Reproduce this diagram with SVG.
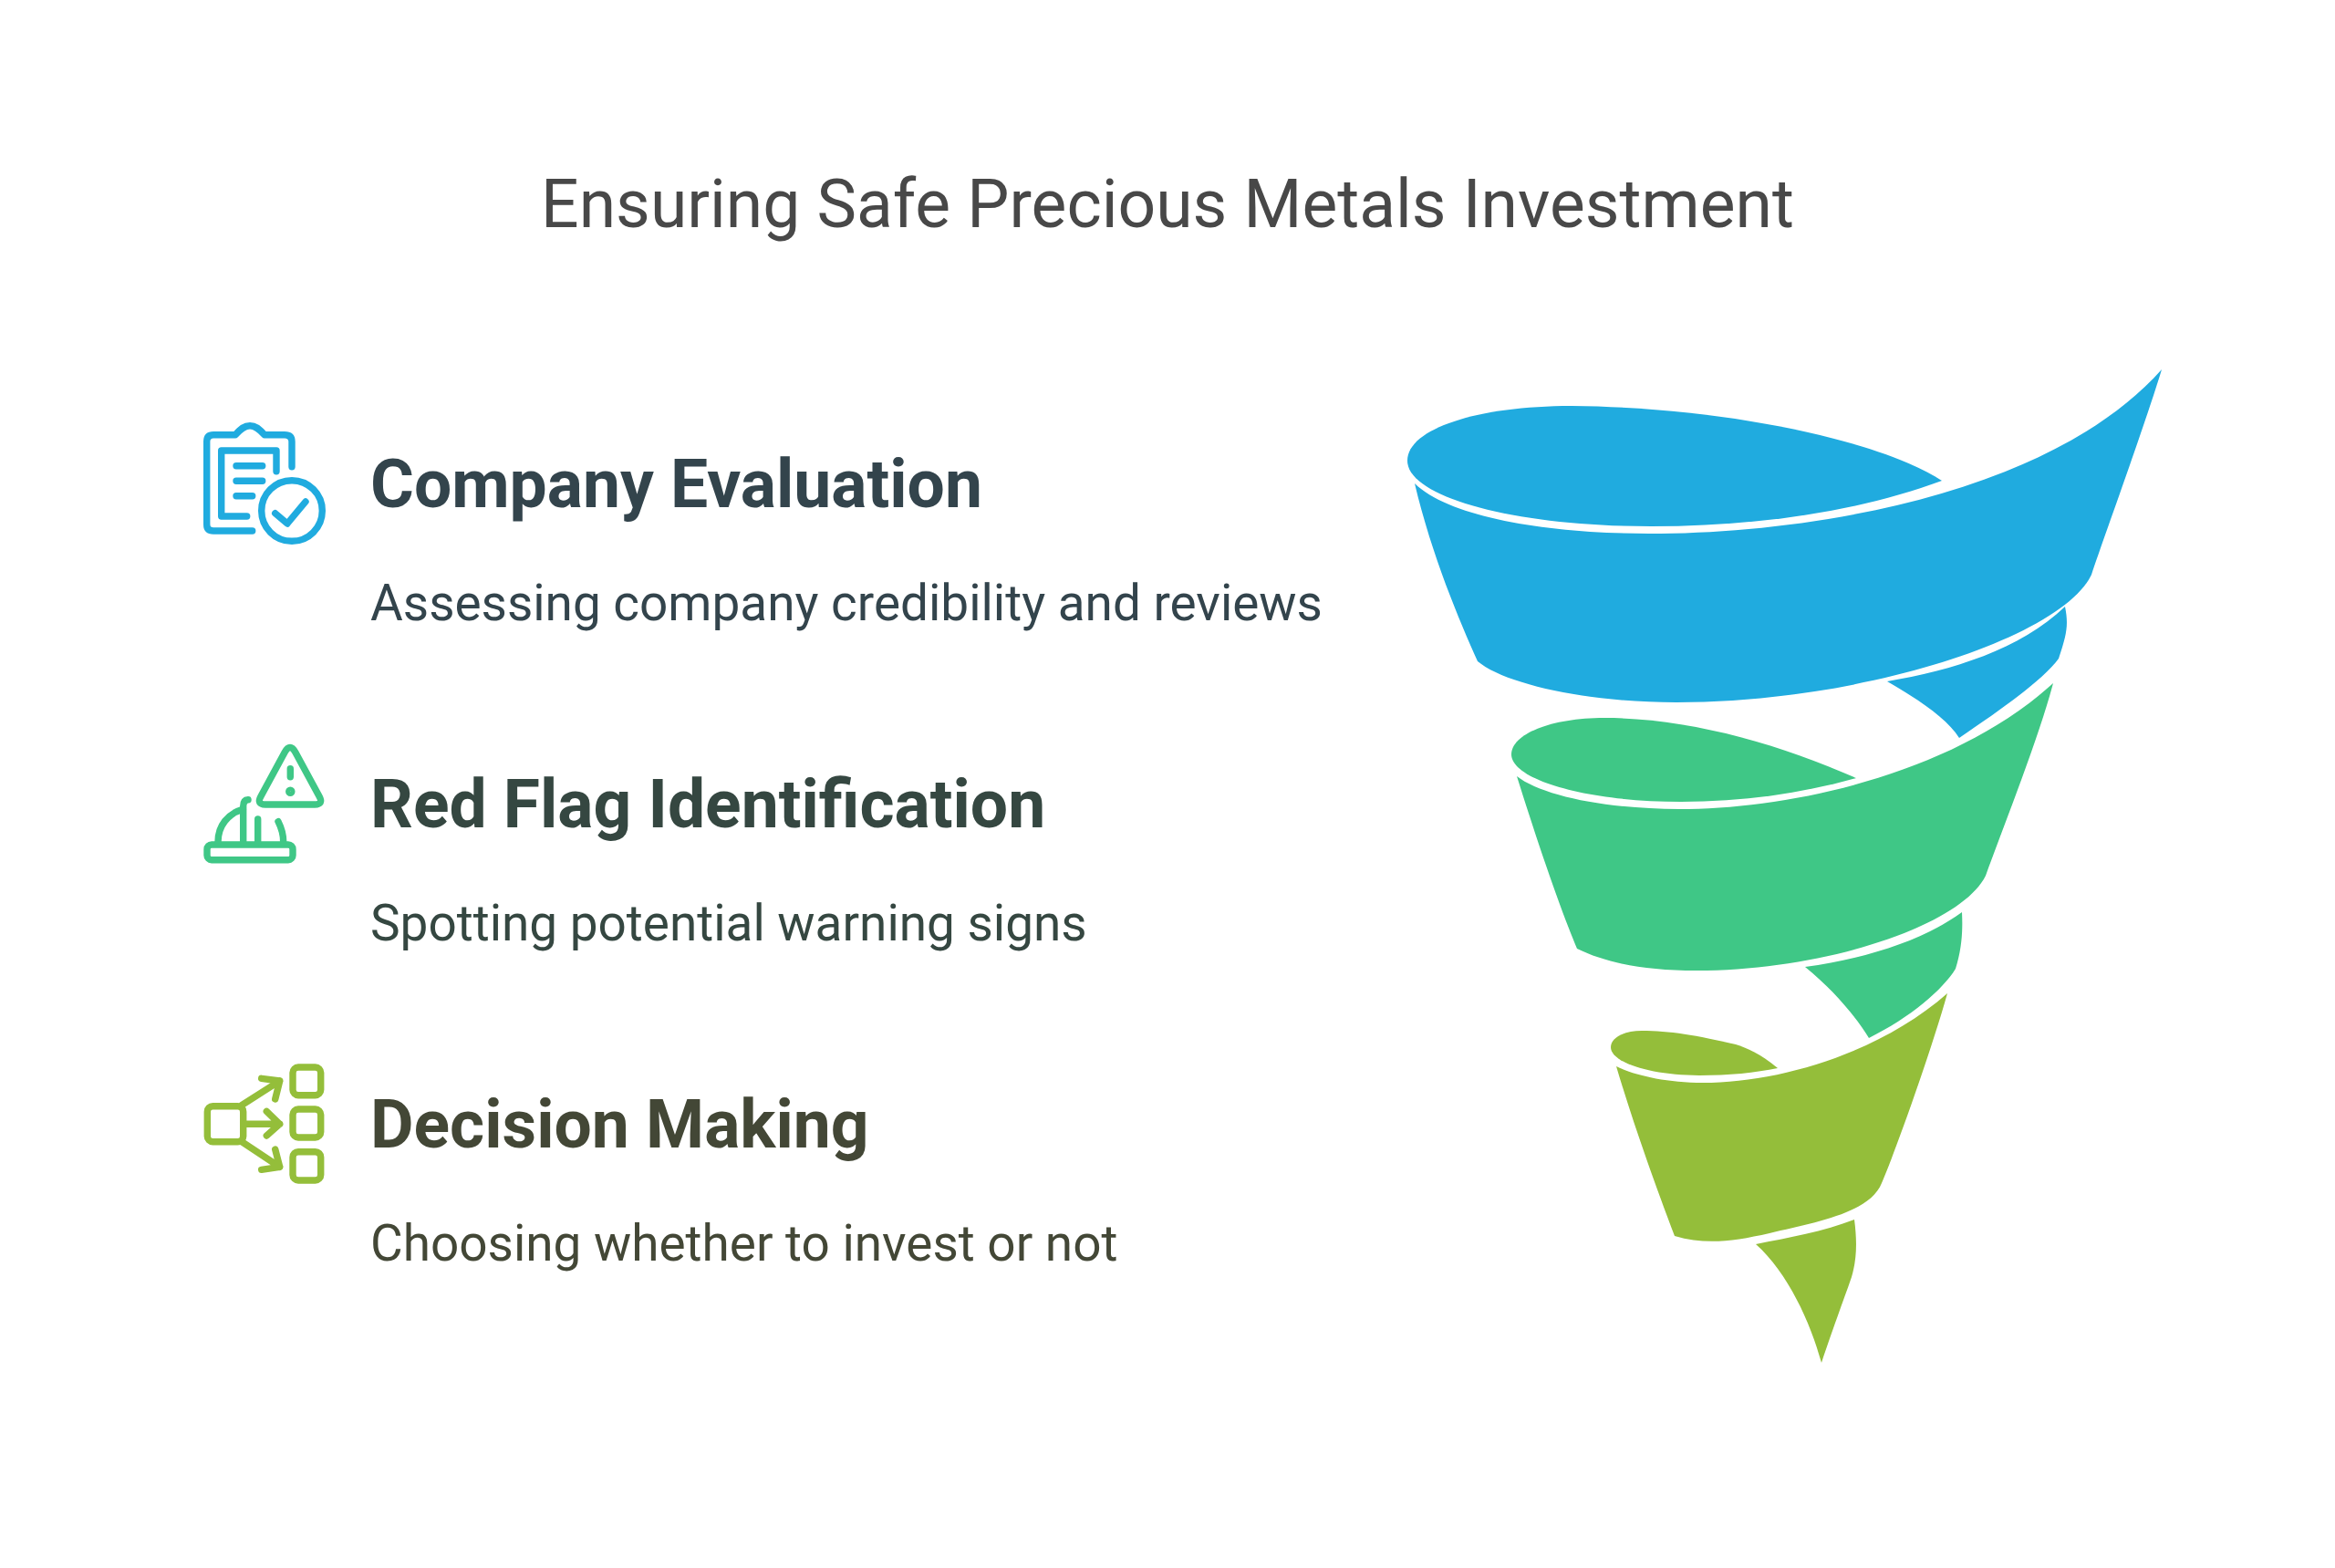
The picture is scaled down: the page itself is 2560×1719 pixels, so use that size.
<svg xmlns="http://www.w3.org/2000/svg" width="2560" height="1719" viewBox="0 0 2560 1719">
<style>
text{font-family:Roboto,"Liberation Sans",sans-serif}
.title{font-size:73.2px;fill:#484848;text-anchor:middle}
.h{font-size:73.2px;font-weight:700}
.d{font-size:54.9px}
.ic{fill:none;stroke-width:7.4;stroke-linecap:round;stroke-linejoin:round}
.blue{fill:#20abdf}.green{fill:#3fc786}.lime{fill:#94be3a}
.sb{stroke:#20abdf}.sg{stroke:#3fc786}.sl{stroke:#94be3a}
.c1{fill:#33444c}.c2{fill:#354741}.c3{fill:#434736}
</style>
<rect width="2560" height="1719" fill="#fff"/>
<text id="title" class="title" x="1280" y="248.5">Ensuring Safe Precious Metals Investment</text>
<g id="funnel">
<g id="funnel-blue" class="blue">
<path d="M2129 527C2070 488 1910 447 1723 445C1620 445 1543 470 1543 505C1543 545 1660 577 1810 577C1930 577 2040 560 2129 527Z"/>
<path d="M1551 530C1590 568 1700 585 1808 585C1990 585 2250 540 2370 405C2352 465 2308 585 2293 630C2260 700 2040 770 1838 770C1740 770 1650 750 1620 725C1600 680 1570 610 1551 530Z"/>
<path d="M2264 665C2215 712 2140 735 2069 747C2105 768 2135 788 2148 809C2198 775 2240 745 2257 722C2266 695 2268 685 2264 665Z"/>
</g>
<g id="funnel-green" class="green">
<path d="M2035 853C1950 815 1850 787 1759 787C1700 787 1657 805 1657 827C1657 855 1740 879 1843 879C1910 879 1975 870 2035 853Z"/>
<path d="M1663 851C1690 872 1760 887 1841 887C1960 887 2140 850 2251 749C2235 810 2195 910 2177 960C2150 1015 2000 1064 1860 1064C1800 1064 1760 1055 1729 1040C1710 995 1683 915 1663 851Z"/>
<path d="M2151 1000C2110 1030 2050 1050 1979 1060C2010 1085 2035 1115 2049 1138C2095 1115 2130 1085 2144 1062C2151 1040 2152 1020 2151 1000Z"/>
</g>
<g id="funnel-lime" class="lime">
<path d="M1949 1171C1930 1155 1915 1149 1903 1145C1860 1135 1830 1130 1800 1130C1780 1130 1766 1138 1766 1148C1766 1165 1810 1179 1863 1179C1895 1179 1925 1176 1949 1171Z"/>
<path d="M1772 1169C1790 1178 1825 1187 1867 1187C1950 1187 2060 1155 2135 1089C2115 1160 2075 1270 2063 1297C2050 1330 1990 1340 1940 1352C1900 1361 1870 1365 1836 1355C1815 1300 1790 1230 1772 1169Z"/>
<path d="M2033 1337C2000 1350 1960 1357 1925 1364C1960 1395 1985 1450 1997 1494C2010 1455 2025 1415 2030 1400C2036 1380 2036 1360 2033 1337Z"/>
</g>
</g>
<g id="node-company-evaluation">
<g class="ic sb">
<path d="M320 511.7V484Q320 476.7 312 476.7H290C284 470 280 466.7 274 466.7S264 470 258 476.7H234Q226.7 476.7 226.7 484V575Q226.7 582 234 582H276.7"/>
<path d="M303 516.7V494H242.7V566H270.7"/>
<path d="M259 510.7H287.7M259 527.3H287.7M259 543.7H276.7"/>
<circle cx="320" cy="560" r="33.3"/>
<path d="M301.7 562.7L315 574L335 550"/>
</g>
<text class="h c1" x="406" y="555.5">Company Evaluation</text>
<text class="d c1" x="406" y="679.5">Assessing company credibility and reviews</text>
</g>
<g id="node-red-flag-identification">
<g class="ic sg">
<path d="M312 825Q318 814 324 825L350 873Q355 882 345 882H291Q281 882 286 873Z"/>
<path d="M318.3 842.7V851.7"/>
<circle cx="318.3" cy="867.7" r="2.5" stroke-width="5.5"/>
<rect x="227" y="926" width="94" height="16.7" rx="5"/>
<path d="M239 923C239 905 250 892 266.7 887M266.7 923V884Q266.7 877 272 876.7M282.7 923V898M305 900.7Q310.7 912 310.7 923"/>
</g>
<text class="h c2" x="406" y="906.5">Red Flag Identification</text>
<text class="d c2" x="406" y="1030.5">Spotting potential warning signs</text>
</g>
<g id="node-decision-making">
<g class="ic sl">
<rect x="227.3" y="1212.7" width="39.4" height="39" rx="6"/>
<rect x="321" y="1170" width="30.7" height="30.7" rx="6"/>
<rect x="321" y="1216" width="30.7" height="31" rx="6"/>
<rect x="321" y="1262.7" width="30.7" height="31.3" rx="6"/>
<path d="M265 1211.7L306.7 1185M286.7 1182.3L306.7 1185L301.7 1205"/>
<path d="M268.3 1232.3H306.7M292.3 1218.3L306.7 1232.3L292.3 1245"/>
<path d="M265 1251.7L306.7 1279.3M301.7 1260L306.7 1279.3L286.7 1282.3"/>
</g>
<text class="h c3" x="406" y="1257.5">Decision Making</text>
<text class="d c3" x="406" y="1381.5">Choosing whether to invest or not</text>
</g>
<g id="connectors"/>
</svg>
